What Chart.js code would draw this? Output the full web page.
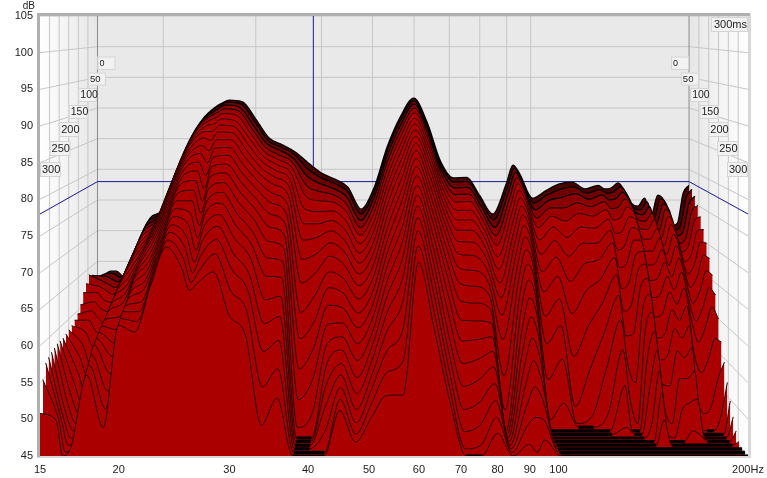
<!DOCTYPE html>
<html>
<head>
<meta charset="utf-8">
<title>Waterfall</title>
<script src="https://cdn.jsdelivr.net/npm/chart.js@4"></script>
<style>
  html, body { margin: 0; padding: 0; background: #fff; }
  canvas { display: block; }
</style>
</head>
<body>
<canvas id="myChart" width="767" height="478"></canvas>
<script>
var xTicks = [15, 20, 30, 40, 50, 60, 70, 80, 90, 100, 200]
var xGrid = [20, 30, 40, 50, 60, 70, 80, 90, 100]
var yTicks = [45, 50, 55, 60, 65, 70, 75, 80, 85, 90, 95, 100, 105]
var timeLabels = [0, 50, 100, 150, 200, 250, 300]
var cursorHz = 38.6
var cursorDb = 78

// slices, ms behind the first one
var delays = [0, 15, 30, 45, 60, 75, 90, 105, 120, 135, 150, 165, 180, 195, 210, 225, 240, 255, 270, 285, 300]
var frequencies = [15, 15.9, 16.3, 16.8, 17.8, 18.9, 20, 21.2, 22.5, 23.8, 25.2, 25.9, 26.7, 28.3, 30, 31.8, 33.7, 35.7, 37.8, 40, 42.4, 44.9, 47.6, 50.4, 53.4, 56.6, 59.9, 63.5, 67.3, 71.3, 75.5, 80, 84.7, 89.8, 92.5, 95.1, 100.8, 106.7, 113, 119.8, 126.9, 134.4, 138.3, 142.4, 146.6, 150.9, 155.3, 159.9, 164.6, 169.4, 174.4, 179.4, 184.7, 190, 194.9, 200]

// dB per frequency, one value for each delay
var f15 = [61.5,62.5,63.5,64,63,62,60.5,59.5,59,58.6,58.4,58.2,58,58,58,57.8,57.6,57.3,56.9,55,50.8]
var f15_9 = [63.4,63.5,63.4,63,62.5,62,61,60,59,57.5,56,54.5,53,51.5,50,49,48.5,48.5,49,49.5,49.9]
var f16_3 = [63.4,63.4,63,62.5,62,61,60,59,57.5,55.5,53.5,52,50.5,49,48,47,46.5,46,45.5,45,45]
var f16_8 = [62.6,62.8,62.5,62,61.3,60.5,59.5,58,56.5,55,53.5,52,51,50,49,48.2,47.5,47,46.5,46.2,46.2]
var f17_8 = [67.5,67,66.5,66,65.5,65,64.5,64,63.5,63,62.5,62,61.5,61,60.5,60,59.5,59,58,57,56]
var f18_9 = [72.1,71.8,71.3,70.8,70.2,69.5,68.8,68,67,66,65,64,63,61.5,60,58.5,57,55,53,51,48.9]
var f20 = [73.5,73.2,73,72.7,72.3,71.9,71.4,70.9,70.3,69.7,69,68.3,67.6,67,66.3,65.6,65,64.5,64,63.4,62.8]
var f21_2 = [79.4,79,78.6,78.1,77.6,77,76.3,75.5,74.6,73.7,72.8,71.8,70.7,69.6,68.5,67.4,66.3,65,64,63,61.9]
var f22_5 = [84.6,84.4,84,83.5,83,82.4,81.6,80.8,80,79,78,77,76,75,74,73,72,71,70,69,68.3]
var f23_8 = [88.2,88,87.7,87.3,86.8,86.2,85.6,84.8,84,83.2,82.3,81.4,80.5,79.5,78.5,77.6,76.7,75.8,75,74.2,73.5]
var f25_2 = [90.2,90,89.6,89.2,88.6,88,87.2,86.4,85.4,84.4,83.3,82.2,81,79.8,78.5,77,75.5,74,72.8,71.6,70.6]
var f25_9 = [90.8,90.6,90.2,89.7,89,88.2,87.2,86,84.6,83,81.3,79.6,78,76.5,75,73.5,72,70.6,69.4,68.4,67.6]
var f26_7 = [91.3,91.1,90.8,90.3,89.7,89,88.2,87.3,86.3,85.2,84,82.8,81.5,80,78.5,77,75.3,73.6,71.8,70,68.6]
var f28_3 = [91,90.8,90.4,90,89.4,88.7,88,87.2,86.3,85.3,84.3,83.2,82.1,80.9,79.7,78.4,77,75.6,74,72.3,70.1]
var f30 = [88.2,88,87.6,87.2,86.6,86,85.3,84.5,83.6,82.6,81.6,80.5,79.3,78,76.6,75.2,73.6,71.8,69.8,67.2,64.1]
var f31_8 = [85.1,84.9,84.6,84.2,83.7,83.2,82.6,81.9,81.1,80.2,79.2,78.1,76.9,75.6,74.1,72.6,71,69,67,64.5,61.5]
var f33_7 = [84,83.8,83.5,83,82.5,81.9,81.2,80.4,79.5,78.4,77.2,75.8,74.2,72.4,70.3,68,65,62,58.5,54,49.2]
var f35_7 = [82.8,82.6,82.2,81.8,81.2,80.6,79.8,79,78,76.9,75.7,74.4,73,71.5,69.8,67.8,65.5,63,60,56.5,52.9]
var f37_8 = [81,80.3,79.4,78.2,76.8,75,73,70.8,68.2,65,61,57.5,53.5,49.5,46,45,45,45,45,45,45]
var f40 = [79.4,78.9,78.2,77.2,76,74.6,73,71.2,69,66.5,63.5,60,56.5,52.5,48,45,45,45,45,45,45]
var f42_4 = [78.4,78,77.4,76.7,75.8,74.7,73.5,72.2,70.7,69,67,65,62.8,60.4,58,55.5,53,50.5,47.5,45,45]
var f44_9 = [77.1,76.7,76,75.2,74.3,73.2,72,70.7,69.3,67.7,66,64.2,62.4,60.6,59,57.5,56,54.8,53.5,52.3,51.2]
var f47_6 = [73.5,73,72.3,71.5,70.6,69.6,68.5,67.3,66,64.6,63,61.3,59.5,57.6,55.6,53.6,51.8,50,48.6,47.5,46.9]
var f50_4 = [77.1,76.6,75.9,75,74,72.9,71.7,70.4,69,67.5,66,64.4,62.8,61.2,59.6,58,56.4,54.8,53.3,51.7,50.2]
var f53_4 = [83.8,83.4,82.7,81.9,81,80,78.9,77.7,76.4,75,73.5,72,70.4,68.8,67,65.2,63.2,61,58.6,56,53.3]
var f56_6 = [88.7,88.3,87.7,87,86.2,85.3,84.3,83.2,82,80.7,79.3,77.8,76.2,74.5,72.6,70.5,68,65,61.5,57.5,53.3]
var f59_9 = [91.6,91.3,90.9,90.4,89.8,89.1,88.4,87.6,86.8,85.9,85,84,83,81.9,80.7,79.5,78.2,76.8,75.2,73.4,71.4]
var f63_5 = [87.7,87.3,86.8,86.2,85.5,84.7,83.8,82.9,81.9,80.8,79.6,78.4,77.1,75.7,74.1,72.5,70.7,68.7,66.6,64.4,62.2]
var f67_3 = [81.4,81,80.4,79.8,79,78.2,77.3,76.3,75.2,74,72.7,71.2,69.5,67.7,65.5,63,60.3,58,55.8,53.8,52.2]
var f71_3 = [78.6,78.2,77.5,76.7,75.8,74.8,73.6,72.3,70.9,69.3,67.5,65.6,63.4,61,58.4,55.6,52.8,50,47.4,45.5,45]
var f75_5 = [78.7,78.3,77.6,76.8,75.9,74.8,73.6,72.3,70.8,69.1,67.2,65.2,63.1,60.9,58.6,56.2,53.7,51,48.3,46,45]
var f80 = [75.7,75.2,74.5,73.7,72.8,71.8,70.7,69.5,68.2,66.8,65.3,63.8,62.2,60.6,59,57.3,55.5,53.6,51.7,49.8,48.1]
var f84_7 = [72.7,72.1,71.2,70.2,69,67.6,66,64.3,62.4,60.2,57,52,47.5,45,45,45,45,45,45,45,45]
var f89_8 = [77.6,77.3,76.8,76.1,75.3,74.4,73.4,72.3,71,69.6,68,66.3,64.4,62.4,60.2,58,55.7,53.4,51,48.8,46.6]
var f92_5 = [80.7,80.4,80,79.4,78.7,77.9,77,76,74.9,73.6,72.2,70.6,68.8,66.8,64.6,62.2,59.6,56.8,53.6,49.8,45.5]
var f95_1 = [79.4,79.1,78.6,78,77.2,76.3,75.3,74.2,73,71.6,70,68.2,66.3,64.2,62,59.6,57,54.5,52,49.5,47.2]
var f100_8 = [75.3,74.8,74,73,71.8,70.2,68.3,66,63.3,60,56.3,51.5,46,45,45,45,45,45,45,45,45]
var f106_7 = [76.5,76.1,75.5,74.6,73.6,72.2,70.4,68.2,65.6,62.6,59,54.5,48.5,45,45,45,45,45,45,45,45]
var f113 = [77.6,77,76,74.6,72.8,70.6,68,64.5,60,54,47,45,45,45,45,45,45,45,45,45,45]
var f119_8 = [77.9,77.4,76.6,75.4,74,72.2,70,67.2,63.5,58.5,52.5,46,45,45,45,45,45,45,45,45,45]
var f126_9 = [76.8,76.4,75.7,74.8,73.6,72,70,67.8,65.2,62,58,53,47,45,45,45,45,45,45,45,45]
var f134_4 = [77.4,77,76.4,75.6,74.6,73.4,72,70.4,68.5,66.2,63.5,60.3,56.3,51.5,46,45,45,45,45,45,45]
var f138_3 = [76.8,76.4,75.6,74.5,73,71.2,69,66.6,63.8,60.8,57.5,53.5,49,45,45,45,45,45,45,45,45]
var f142_4 = [77,76.6,75.8,74.7,73.3,71.6,69.6,67.3,64.7,61.6,57.8,51,45.5,45,45,45,45,45,45,45,45]
var f146_6 = [77.8,77.4,76.8,76,75,73.8,72.4,70.8,69,67,64.8,62,59,55.5,51.5,47,45,45,45,45,45]
var f150_9 = [76.5,76.2,75.7,75,74.2,73.2,72,70.8,69.4,67.8,66,64,61.8,59.4,57,54.5,51.8,48.5,45,45,45]
var f155_3 = [74.5,74.1,73.5,72.7,71.6,70.3,68.8,67,65,62.8,60.3,57.6,54.8,51.8,48.8,46,45,45,45,45,45]
var f159_9 = [74,73.7,73.2,72.5,71.5,70.3,68.8,67.2,65.3,63.2,60.8,58.2,55.4,51.5,46.5,45,45,45,45,45,45]
var f164_6 = [75.3,75,74.5,73.8,73,72,70.8,69.4,67.8,66,64,61.8,59.4,56.5,53,49,45,45,45,45,45]
var f169_4 = [72.4,72.1,71.6,71,70.2,69.3,68.2,67,65.6,64,62.2,60.2,58,55.6,53,50,46.5,45,45,45,45]
var f174_4 = [75.8,75.5,75,74.4,73.6,72.6,71.4,70,68.4,66.6,64.6,62.3,59.8,57,54,50.5,46,45,45,45,45]
var f179_4 = [74.8,74.4,73.8,72.9,71.8,70.5,68.9,67.1,65,62.6,59.9,55.5,50,45.5,45,45,45,45,45,45,45]
var f184_7 = [70.8,70.4,69.8,69,68,66.8,65.3,63.6,61.6,59.3,56.6,52.5,47,45,45,45,45,45,45,45,45]
var f190 = [71.2,71,70.5,69.8,69,68,66.7,65.2,63.4,61.3,58.9,54.5,48,45,45,45,45,45,45,45,45]
var f194_9 = [76.1,75.7,75,74.1,73,71.7,70.2,68.5,66.5,64.3,61.8,57.5,52,47,45,45,45,45,45,45,45]
var f200 = [77.4,77,76.2,75,73.5,71.8,70,68,65.8,63.2,60,57,54.5,52,49.8,48,46.5,45.5,45,45,45]

var columns = [f15, f15_9, f16_3, f16_8, f17_8, f18_9, f20, f21_2, f22_5, f23_8, f25_2, f25_9, f26_7, f28_3, f30, f31_8, f33_7, f35_7, f37_8, f40, f42_4, f44_9, f47_6, f50_4, f53_4, f56_6, f59_9, f63_5, f67_3, f71_3, f75_5, f80, f84_7, f89_8, f92_5, f95_1, f100_8, f106_7, f113, f119_8, f126_9, f134_4, f138_3, f142_4, f146_6, f150_9, f155_3, f159_9, f164_6, f169_4, f174_4, f179_4, f184_7, f190, f194_9, f200]

// first slices get a darker fill, the lines pile up there
var sliceFills = ['#4a0000', '#700000', '#8a0000', '#9a0000']

// time boxes on the walls
var boxTops = [56.5, 72.5, 88, 105, 122, 141, 162]
var boxHeights = [13.5, 13, 14, 14, 15, 15, 15]
var boxWidths = [18, 18, 18.5, 19, 20, 21, 21]
var boxFonts = [9, 9.5, 10.5, 10.5, 11, 11, 11]

// how the back wall sits inside the front plane
var insetX = 0.0812
var shrinkX = 0.1645
var shrinkY = 0.1636
var span = Math.log(200 / 15)

function projX(hz, ms) {
  var d = 1 - ms / 300
  var frac = Math.log(hz / 15) / span
  var xf = insetX * d + frac * (1 - shrinkX * d)
  return 15 * Math.exp(xf * span)
}

function projY(db, ms) {
  var d = 1 - ms / 300
  return 105 - (105 - db) * (1 - shrinkY * d)
}

var datasets = []

// grid lines, drawn as one broken line
var gridPts = []
var edgePts = []
var cursorPts = []
function addLine(list, pts) {
  pts.forEach(p => list.push({x: projX(p[0], p[2]), y: projY(p[1], p[2])}))
  list.push({x: projX(pts[0][0], pts[0][2]), y: null})
}
yTicks.forEach(v => {
  addLine(gridPts, [[15, v, 300], [15, v, 0], [200, v, 0], [200, v, 300]])
})
xGrid.forEach(hz => {
  addLine(gridPts, [[hz, 45, 0], [hz, 105, 0]])
})
timeLabels.slice(1, 6).forEach(ms => {
  addLine(gridPts, [[15, 45, ms], [15, 105, ms]])
  addLine(gridPts, [[200, 45, ms], [200, 105, ms]])
})
addLine(edgePts, [[15, 45, 0], [15, 105, 0]])
addLine(edgePts, [[200, 45, 0], [200, 105, 0]])
addLine(cursorPts, [[15, cursorDb, 300], [15, cursorDb, 0], [200, cursorDb, 0], [200, cursorDb, 300]])
addLine(cursorPts, [[cursorHz, cursorDb, 0], [cursorHz, 105, 0]])

datasets.push({data: gridPts, borderColor: '#c6c6c6', borderWidth: 1, pointRadius: 0, fill: false, order: 300})
datasets.push({data: edgePts, borderColor: '#8c8c8c', borderWidth: 1, pointRadius: 0, fill: false, order: 299})
datasets.push({data: cursorPts, borderColor: '#1a1a96', borderWidth: 1, pointRadius: 0, fill: false, order: 298})

delays.forEach((ms, j) => {
  var pts = frequencies.map((hz, i) => {
    return {x: projX(hz, ms), y: projY(columns[i][j], ms), db: columns[i][j]}
  })
  datasets.push({
    data: pts,
    borderColor: j < 4 ? '#000000' : '#2a0000',
    borderWidth: j < 3 ? 1.3 : 1,
    backgroundColor: j < sliceFills.length ? sliceFills[j] : '#aa0000',
    fill: 'start',
    pointRadius: 0,
    cubicInterpolationMode: 'monotone',
    order: 200 - j,
    segment: {
      // flat on the floor the line turns into a black band
      borderColor: ctx => (ctx.p0.raw.db <= 45 && ctx.p1.raw.db <= 45) ? '#000000' : undefined,
      borderWidth: ctx => (ctx.p0.raw.db <= 45 && ctx.p1.raw.db <= 45) ? 3.2 : undefined
    }
  })
})

var wallPlugin = {
  id: 'walls',
  beforeDatasetsDraw(chart) {
    var c = chart.ctx, a = chart.chartArea
    var sx = chart.scales.x
    var backL = sx.getPixelForValue(projX(15, 0))
    var backR = sx.getPixelForValue(projX(200, 0))
    c.save()
    var g = c.createLinearGradient(a.left, 0, backL, 0)
    g.addColorStop(0, '#ffffff')
    g.addColorStop(1, '#e6e6e6')
    c.fillStyle = g
    c.fillRect(a.left, a.top, backL - a.left, a.height)
    g = c.createLinearGradient(a.right, 0, backR, 0)
    g.addColorStop(0, '#ffffff')
    g.addColorStop(1, '#e6e6e6')
    c.fillStyle = g
    c.fillRect(backR, a.top, a.right - backR, a.height)
    c.fillStyle = '#e9e9e9'
    c.fillRect(backL, a.top, backR - backL, a.height)
    // frame
    c.fillStyle = '#d8d8d8'
    c.fillRect(a.right, a.top - 2, 3, a.height + 4)
    c.fillRect(a.left - 3, a.bottom, a.width + 6, 2)
    c.fillStyle = '#b0b0b0'
    c.fillRect(a.left - 3, a.top - 3, 3, a.height + 4)
    c.fillRect(a.left - 3, a.top - 3, a.width + 5, 3)
    c.restore()
  },
  afterDraw(chart) {
    var c = chart.ctx, a = chart.chartArea
    var sx = chart.scales.x
    c.save()
    c.fillStyle = '#222'
    c.font = '10px "Liberation Sans"'
    c.textBaseline = 'alphabetic'
    c.textAlign = 'right'
    c.fillText('dB', 35, 9)
    timeLabels.forEach((ms, i) => {
      var left = sx.getPixelForValue(projX(15, ms))
      var right = sx.getPixelForValue(projX(200, ms))
      drawBox(c, left, boxTops[i], boxWidths[i], boxHeights[i], String(ms), boxFonts[i], 2)
      drawBox(c, right - boxWidths[i], boxTops[i], boxWidths[i], boxHeights[i], String(ms), boxFonts[i], 2)
    })
    drawBox(c, a.right - 37, a.top + 1, 37, 15, '300ms', 11, 3)
    c.restore()
  }
}

function drawBox(c, x, y, w, h, text, size, pad) {
  c.fillStyle = '#f2f2f2'
  c.fillRect(x, y, w, h)
  c.strokeStyle = '#d4d4d4'
  c.lineWidth = 1
  c.strokeRect(x + 0.5, y + 0.5, w - 1, h - 1)
  c.fillStyle = '#222'
  c.font = size + 'px "Liberation Sans"'
  c.textAlign = 'left'
  c.textBaseline = 'middle'
  c.fillText(text, x + pad, y + h / 2 + 0.5)
}

const ctx = document.getElementById('myChart')
var myChart = new Chart(ctx, {
  type: 'line',
  data: {datasets: datasets},
  plugins: [wallPlugin],
  options: {
    responsive: false,
    animation: false,
    devicePixelRatio: 1,
    layout: {padding: {top: 16, right: 19, left: 0, bottom: 0}},
    plugins: {legend: {display: false}, tooltip: {enabled: false}},
    events: [],
    scales: {
      x: {
        type: 'logarithmic',
        min: 15,
        max: 200,
        grid: {display: false, drawTicks: false},
        border: {display: false},
        afterBuildTicks: s => { s.ticks = xTicks.map(v => ({value: v})) },
        afterFit: s => { s.height = 22; s.paddingLeft = 0; s.paddingRight = 0 },
        ticks: {
          autoSkip: false,
          maxRotation: 0,
          padding: 7,
          color: '#222',
          font: {family: '"Liberation Sans"', size: 11},
          callback: v => v == 200 ? '200Hz' : String(v)
        }
      },
      y: {
        min: 45,
        max: 105,
        grid: {display: false, drawTicks: false},
        border: {display: false},
        afterFit: s => { s.width = 40; s.paddingTop = 0; s.paddingBottom = 0 },
        ticks: {
          stepSize: 5,
          padding: 7,
          color: '#222',
          font: {family: '"Liberation Sans"', size: 11}
        }
      }
    }
  }
})
</script>
</body>
</html>
